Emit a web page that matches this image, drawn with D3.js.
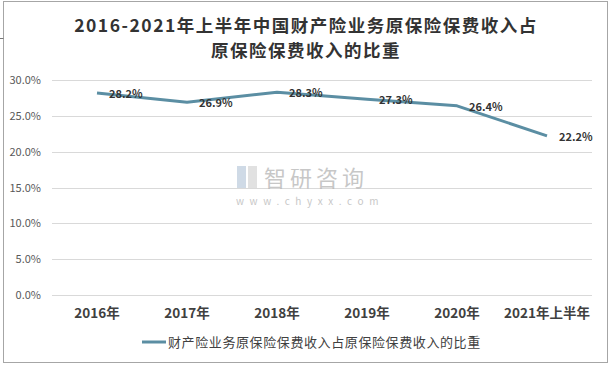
<!DOCTYPE html>
<html><head><meta charset="utf-8">
<script src="https://cdn.jsdelivr.net/npm/d3@7"></script>
<style>body{margin:0;background:#fff}svg{display:block}</style>
</head><body>
<script>
const categories = ["2016年","2017年","2018年","2019年","2020年","2021年上半年"];
const values = [28.2, 26.9, 28.3, 27.3, 26.4, 22.2];
const yTicks = [0,5,10,15,20,25,30];
const seriesName = "财产险业务原保险保费收入占原保险保费收入的比重";
const titleLines = ["2016-2021年上半年中国财产险业务原保险保费收入占","原保险保费收入的比重"];

const W=612,H=368;
const font = "'Noto Sans CJK SC','Microsoft YaHei',sans-serif";
const svg = d3.select("body").append("svg").attr("width",W).attr("height",H);
svg.append("rect").attr("x",3.5).attr("y",1.5).attr("width",604).attr("height",361)
  .attr("fill","#fff").attr("stroke","#a6a6a6");
svg.append("line").attr("x1",0).attr("x2",3.5).attr("y1",38.5).attr("y2",38.5).attr("stroke","#777");

const x = d3.scaleBand().domain(categories).range([52,592]);
const y = d3.scaleLinear().domain([0,30]).range([295,80]);

// grid
svg.append("g").selectAll("line").data(yTicks).join("line")
  .attr("x1",52).attr("x2",592).attr("y1",d=>Math.round(y(d))+0.5).attr("y2",d=>Math.round(y(d))+0.5)
  .attr("stroke","#d9d9d9");

// y axis
const ya = svg.append("g").attr("transform","translate(52,0)")
  .call(d3.axisLeft(y).tickValues(yTicks).tickFormat(d=>d.toFixed(1)+"%").tickSize(0).tickPadding(11));
ya.select(".domain").remove();
ya.selectAll("text").attr("font-family",font).attr("font-size",11).attr("fill","#595959");

// x axis
const xa = svg.append("g").attr("transform","translate(0,295)")
  .call(d3.axisBottom(x).tickSize(0).tickPadding(13));
xa.select(".domain").remove();
xa.selectAll("text").attr("font-family",font).attr("font-size",13.5).attr("font-weight","bold").attr("fill","#404040");

// watermark
const wm = svg.append("g").attr("opacity",0.55);
wm.append("rect").attr("x",237).attr("y",166).attr("width",9).attr("height",22).attr("fill","#a9bdd3");
wm.append("rect").attr("x",248).attr("y",166).attr("width",9).attr("height",22).attr("fill","#c9c9c9");
wm.append("text").attr("x",264).attr("y",186).attr("font-family",font).attr("font-size",22)
  .attr("letter-spacing",4).attr("fill","#9a9a9a").text("智研咨询");
wm.append("text").attr("x",236).attr("y",205).attr("font-family",font).attr("font-size",10)
  .attr("letter-spacing",5.6).attr("fill","#9a9a9a").text("www.chyxx.com");

// line
const line = d3.line().x((d,i)=>x(categories[i])+x.bandwidth()/2).y(d=>y(d));
svg.append("path").datum(values).attr("d",line).attr("fill","none")
  .attr("stroke","#5b8ea3").attr("stroke-width",3).attr("stroke-linejoin","round");

// labels
svg.append("g").selectAll("text").data(values).join("text")
  .attr("x",(d,i)=>x(categories[i])+x.bandwidth()/2+12)
  .attr("y",d=>y(d)+5)
  .attr("font-family",font).attr("font-size",11).attr("font-weight","bold").attr("fill","#333")
  .text(d=>d.toFixed(1)+"%");

// title
svg.append("g").selectAll("text").data(titleLines).join("text")
  .attr("x",306).attr("y",(d,i)=>32+i*25).attr("text-anchor","middle")
  .attr("font-family",font).attr("font-size",17.5).attr("letter-spacing",1.5)
  .attr("font-weight","bold").attr("fill","#333")
  .text(d=>d);

// legend
svg.append("line").attr("x1",142).attr("x2",166).attr("y1",342).attr("y2",342)
  .attr("stroke","#5b8ea3").attr("stroke-width",3);
svg.append("text").attr("x",168).attr("y",347).attr("font-family",font).attr("font-size",13)
  .attr("letter-spacing",0.6).attr("fill","#404040").text(seriesName);
</script>
</body></html>
